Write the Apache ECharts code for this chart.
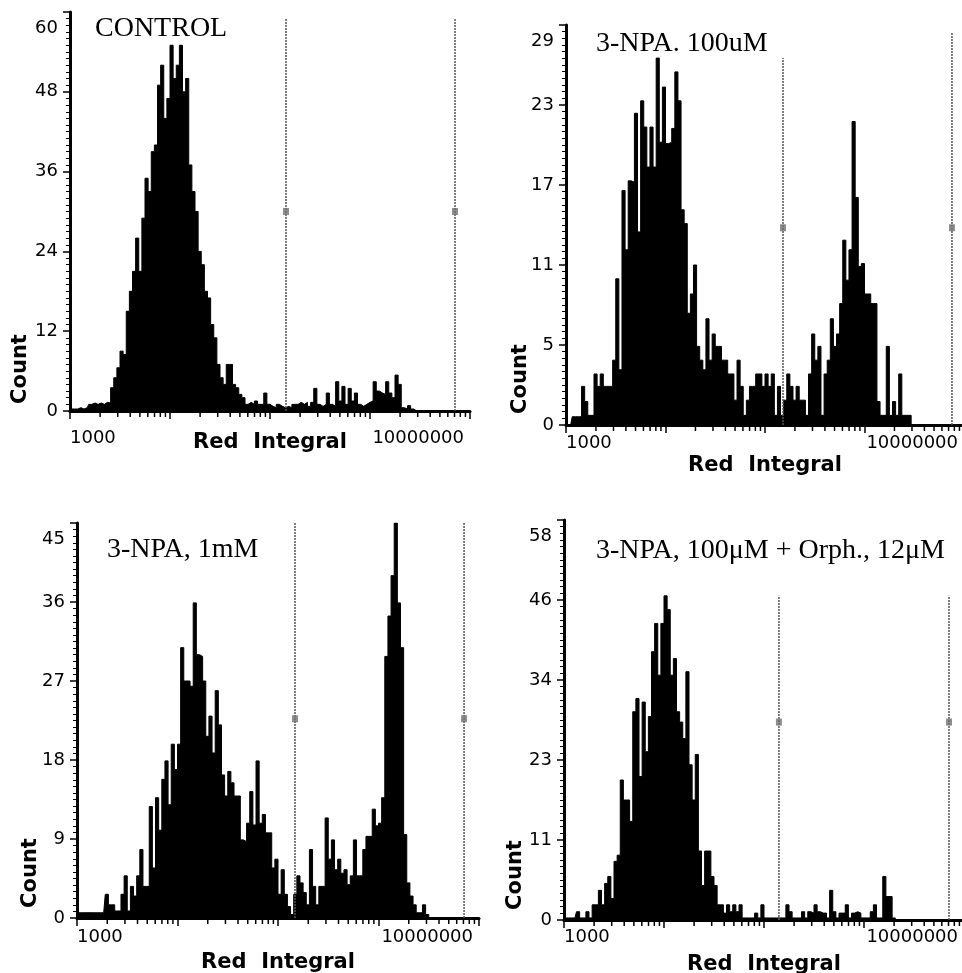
<!DOCTYPE html>
<html><head><meta charset="utf-8">
<script src="https://cdn.jsdelivr.net/npm/echarts@6/dist/echarts.min.js"></script>
<style>html,body{margin:0;padding:0;background:#fff}#c{width:962px;height:973px}</style>
</head><body><div id="c"></div>
<script>
// ---------- data ----------
const binsPerDecade = 32;          // histogram channels per decade (log scale)
const xMin = 1000, xMax = 10000000;
const xTickLabels = {3: '1000', 7: '10000000'};
const panelTitles = ['CONTROL', '3-NPA. 100uM', '3-NPA, 1mM', '3-NPA, 100\u03bcM + Orph., 12\u03bcM'];
const xAxisTitle = 'Red  Integral';
const yAxisTitle = 'Count';
const yMax = [60, 29, 45, 58];
const gateLow = [1.445e5, 1.517e5, 1.476e5, 1.41e5];
const gateHigh = [7.08e6, 7.57e6, 7.1e6, 7.08e6];
const gateTopLow = [59, 26.6, 45, 47];
const gateTopHigh = [59, 28.5, 45, 47];
const gateMarkY = [30, 14.3, 22.7, 28.7];

const ctrlCounts = [0.3,0.3,0.3,0.5,0.3,0.5,1,1.2,1,1.2,
 1,1.3,1.2,3.5,5,6.5,9,8.5,15,18,
 21,26,21,29,35,33,39,40,49,52,
 44,47,55,50,52,55,48,50,37,33,
 30,24,22,18,17,13,11,7,5,4,
 7,7,4,3.5,2.5,2,1,1.3,1,1.5,
 1,1,2.7,1,0.7,0.5,1,0.7,0.5,0.7,
 0.5,1,1,1.3,1,1.3,0.7,1.3,3.4,1,
 0.7,1,2.7,1,0.7,4.4,1.5,3.7,1,3.4,
 1.5,2.7,1,0.7,1,1.3,1.5,4.4,3,2.7,
 2.5,4.4,2.7,2,5.4,4,0.5,0.3,0.8,0.3,0,0];

const npa100Counts = [0,0,0.6,0.6,0.6,2.8,1.7,0.7,0.7,3.7,
 2.8,3.7,2.8,2.8,2.8,4.7,10.6,4,17,12.7,
 17.7,17.6,22.6,14,23.5,21.6,18.7,21.6,18.7,26.6,
 20.5,24.5,20.4,20.5,21.5,25.6,23.5,15.6,14.6,8.1,
 9.5,11.6,5.7,4.7,4,7.7,4.7,6.6,5.7,5.7,
 4.7,4.7,3.7,3.7,1.8,4.7,2.8,0.7,1.8,2.8,
 2.8,3.7,3.7,2.8,3.7,2.8,3.7,0.7,2.8,0.7,
 1.8,3.7,2.8,1.8,2.8,1.8,1.8,0.7,3.7,6.6,
 4.7,5.7,0.7,3.7,4.7,7.7,5.7,6.6,8.8,13.4,
 10.5,12.7,22,16.5,11.5,11.7,9.5,9.5,8.8,8.8,
 1.7,0.7,0.7,5.7,0.7,1.7,0.7,3.7,0.7,0.7,
 0.7,0,0];

const npa1mCounts = [0.6,0.6,0.6,0.6,0.6,0.6,0.6,0.6,0.6,2.7,
 1.5,1.5,0.8,0.8,2.7,4.8,0.8,3.6,2.5,4.8,
 7.8,3.6,3.6,12.7,5.7,13.7,10,15.8,17.9,12.9,
 19.8,16.9,19.8,30.8,27,27,26.4,35.9,30,29.8,
 27,20.7,23,18.8,25.9,22,16.3,13.9,16.7,15.4,
 13.9,13.9,8.9,8.7,10.8,14.4,10.6,17.9,10.8,11.8,
 9.7,9.7,5.7,6.7,2.7,5.5,2.7,1.3,0.4,2.7,
 4.8,4,2.9,1.5,7.8,3.6,1.5,3.6,3.6,11.4,
 6.7,8.9,5.5,6.7,5.1,5.5,3.8,4.8,8.9,4.8,
 4.8,7.8,9.3,9.3,12.4,10.5,10.8,13.7,29.8,34.4,
 39,45,35.9,30.8,9.5,4,2.5,1.5,0.6,0.6,
 1.5,0.4,0,0];

const orphCounts = [0.3,0.3,0.3,0.3,1.2,0.3,0.3,1.2,0.3,2.2,
 2.2,4.3,2.2,5.3,6.3,3.1,8.5,9.4,20.3,17.4,
 17.4,14.3,30.2,32.1,20.8,31.6,24.4,29.5,38.9,43,
 35.5,43,47,45,35.5,37.9,30.2,28.7,26.3,36,
 22.5,17.4,24,10,5,10,10,6.3,5,2.2,
 2.2,1,2.2,1.2,2.2,1.2,2.2,0.3,0.3,0.3,
 0.3,1,0.3,2.2,0.3,0.3,0.3,0.3,0.3,0.3,
 0.3,2.2,1.2,0.3,0.3,0.3,1.2,0.3,1.2,1,
 2.2,1.2,1,1,0.3,4.3,1.2,0.3,1,1,
 2.2,0.3,1,1.2,1,0.3,0.3,0.3,1.2,2.2,
 0.3,0.3,6.3,3.4,3.4,0.3,0,0];

const panelCounts = [ctrlCounts, npa100Counts, npa1mCounts, orphCounts];

// ---------- layout (pixels) ----------
const layout = [
 {left:70,  top:12,  width:400, height:399, labelMargin:18, nameGap:21, titleX:95,  titleY:29,  countX:21,  countY:369},
 {left:566, top:25,  width:398, height:400, labelMargin:9,  nameGap:30, titleX:596, titleY:44,  countX:521, countY:379},
 {left:77,  top:523, width:402, height:395, labelMargin:10, nameGap:34, titleX:107, titleY:550, countX:31,  countY:873},
 {left:564, top:520, width:400, height:400, labelMargin:8,  nameGap:34, titleX:596, titleY:551, countX:516, countY:875}
];

const minorX = [];
for (let d = 3; d < 7; d++) for (let k = 2; k < 10; k++) minorX.push([k * Math.pow(10, d), 0]);

const LABEL_FONT = 'DejaVu Sans';
const grids = [], xAxes = [], yAxes = [], series = [], graphics = [];

layout.forEach((L, k) => {
  grids.push({left: L.left, top: L.top, width: L.width, height: L.height,
    containLabel: false, outerBoundsMode: 'none'});
  xAxes.push({
    type: 'log', logBase: 10, gridIndex: k, min: xMin, max: xMax,
    axisLine: {show: true, lineStyle: {color: '#000', width: 3}},
    axisTick: {show: true, inside: false, length: 8, lineStyle: {color: '#000', width: 1.5}},
    splitLine: {show: false}, minorTick: {show: false}, minorSplitLine: {show: false},
    axisLabel: {
      show: true, margin: L.labelMargin, fontFamily: LABEL_FONT, fontSize: 18, color: '#000',
      showMinLabel: true, showMaxLabel: true, alignMinLabel: 'left', alignMaxLabel: 'right',
      padding: [0, 6, 0, 0],
      formatter: v => xTickLabels[Math.round(Math.log10(v))] || ''
    },
    name: xAxisTitle, nameLocation: 'middle', nameGap: L.nameGap, nameMoveOverlap: false,
    nameTextStyle: {fontFamily: LABEL_FONT, fontWeight: 'bold', fontSize: 21, color: '#000'}
  });
  const M = yMax[k];
  yAxes.push({
    type: 'value', gridIndex: k, min: 0, max: M, interval: M / 5,
    axisLine: {show: true, lineStyle: {color: '#000', width: 3}},
    axisTick: {show: true, inside: false, length: 7, lineStyle: {color: '#000', width: 1.5}},
    minorTick: {show: true, splitNumber: 12, length: 4, lineStyle: {color: '#000', width: 1}},
    splitLine: {show: false}, minorSplitLine: {show: false},
    axisLabel: {
      show: true, margin: 12, fontFamily: LABEL_FONT, fontSize: 18, color: '#000',
      formatter: v => {
        const s = String(Math.floor(v + 1e-6));
        return Math.abs(v - M) < 1e-6 ? '{t|' + s + '}' : s;
      },
      rich: {t: {fontFamily: LABEL_FONT, fontSize: 18, color: '#000', padding: [32, 0, 0, 0]}}
    }
  });
  const counts = panelCounts[k];
  series.push({
    type: 'line', xAxisIndex: k, yAxisIndex: k, step: 'middle', symbol: 'none',
    data: counts.map((c, i) => [xMin * Math.pow(10, (i + 0.5) / binsPerDecade), c]),
    lineStyle: {color: '#000', width: 1}, areaStyle: {color: '#000', opacity: 1},
    z: 2, animation: false, silent: true
  });
  [[gateLow[k], gateTopLow[k]], [gateHigh[k], gateTopHigh[k]]].forEach(g => {
    series.push({
      type: 'line', xAxisIndex: k, yAxisIndex: k, symbol: 'none',
      data: [[g[0], 0], [g[0], g[1]]],
      lineStyle: {color: '#555', width: 1.5, type: [2, 1]},
      z: 4, animation: false, silent: true
    });
  });
  series.push({
    type: 'scatter', xAxisIndex: k, yAxisIndex: k, symbol: 'rect', symbolSize: [6, 7],
    data: [[gateLow[k], gateMarkY[k]], [gateHigh[k], gateMarkY[k]]],
    itemStyle: {color: '#707070'}, z: 5, animation: false, silent: true
  });
  series.push({
    type: 'custom', xAxisIndex: k, yAxisIndex: k, data: minorX, clip: false,
    renderItem: (params, api) => {
      const p = api.coord([api.value(0), 0]);
      return {type: 'line', shape: {x1: p[0], y1: p[1] + 1, x2: p[0], y2: p[1] + 6},
        style: {stroke: '#000', lineWidth: 1.5}};
    },
    z: 3, animation: false, silent: true
  });
  graphics.push({
    type: 'text', x: L.titleX, y: L.titleY,
    style: {text: panelTitles[k], font: '28px "Liberation Serif", "Times New Roman", serif',
      fill: '#000', align: 'left', verticalAlign: 'middle'}
  });
  graphics.push({
    type: 'text', x: L.countX, y: L.countY, rotation: Math.PI / 2,
    style: {text: yAxisTitle, font: 'bold 21px "DejaVu Sans", sans-serif',
      fill: '#000', align: 'center', verticalAlign: 'middle'}
  });
});

const chart = echarts.init(document.getElementById('c'), null, {renderer: 'canvas'});
chart.setOption({
  backgroundColor: '#fff',
  animation: false,
  grid: grids, xAxis: xAxes, yAxis: yAxes, series: series, graphic: graphics
});
</script>
</body></html>
